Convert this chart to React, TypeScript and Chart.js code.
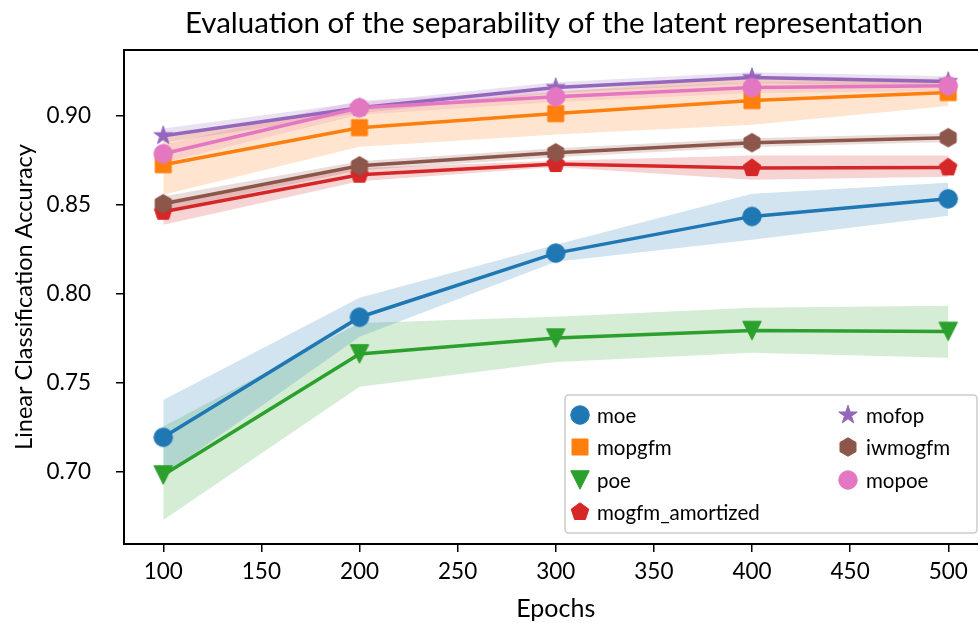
import { useEffect, useRef } from 'react';
import { Chart, registerables } from 'chart.js';

Chart.register(...registerables);

// ---------- data ----------
const epochs = [100, 200, 300, 400, 500];
const xTicks = [100, 150, 200, 250, 300, 350, 400, 450, 500];
const yTicks = [0.7, 0.75, 0.8, 0.85, 0.9];

const moeMean = [0.7193, 0.7867, 0.8227, 0.8433, 0.8532];
const moeLow = [0.698, 0.7757, 0.8178, 0.8302, 0.8437];
const moeHigh = [0.7403, 0.7976, 0.8274, 0.856, 0.8622];

const mopgfmMean = [0.8723, 0.8931, 0.901, 0.9083, 0.9128];
const mopgfmLow = [0.8555, 0.8824, 0.8892, 0.8948, 0.9052];
const mopgfmHigh = [0.889, 0.904, 0.913, 0.9218, 0.9204];

const poeMean = [0.6981, 0.7661, 0.775, 0.7792, 0.7787];
const poeLow = [0.6729, 0.7476, 0.7616, 0.7667, 0.7639];
const poeHigh = [0.7254, 0.7835, 0.7869, 0.792, 0.7931];

const amortMean = [0.8459, 0.8667, 0.8727, 0.8704, 0.8708];
const amortLow = [0.8386, 0.863, 0.871, 0.8639, 0.8656];
const amortHigh = [0.852, 0.8705, 0.8745, 0.8775, 0.8775];

const mofopMean = [0.8886, 0.9043, 0.9156, 0.9212, 0.919];
const mofopLow = [0.8846, 0.9013, 0.9126, 0.9182, 0.916];
const mofopHigh = [0.8926, 0.9073, 0.9186, 0.9242, 0.922];

const iwmogfmMean = [0.8504, 0.8717, 0.879, 0.8847, 0.8875];
const iwmogfmLow = [0.8464, 0.8692, 0.8765, 0.8822, 0.885];
const iwmogfmHigh = [0.8544, 0.8742, 0.8815, 0.8872, 0.89];

const mopoeMean = [0.8785, 0.9043, 0.9105, 0.9156, 0.9167];
const mopoeLow = [0.8735, 0.9003, 0.9075, 0.9126, 0.9137];
const mopoeHigh = [0.8835, 0.9083, 0.9135, 0.9186, 0.9197];

const seriesLabels = ['moe', 'mopgfm', 'poe', 'mogfm_amortized', 'mofop', 'iwmogfm', 'mopoe'];
const seriesColors = ['#1f77b4', '#ff7f0e', '#2ca02c', '#d62728', '#9467bd', '#8c564b', '#e377c2'];
const seriesShapes = ['circle', 'square', 'triangleDown', 'pentagon', 'star', 'hexagon', 'circle'];
const seriesMeans = [moeMean, mopgfmMean, poeMean, amortMean, mofopMean, iwmogfmMean, mopoeMean];
const seriesLows = [moeLow, mopgfmLow, poeLow, amortLow, mofopLow, iwmogfmLow, mopoeLow];
const seriesHighs = [moeHigh, mopgfmHigh, poeHigh, amortHigh, mofopHigh, iwmogfmHigh, mopoeHigh];

const FONT = 'Lato, "DejaVu Sans", sans-serif';

function hexToRgba(hex: string, a: number) {
  const n = parseInt(hex.slice(1), 16);
  return `rgba(${(n >> 16) & 255},${(n >> 8) & 255},${n & 255},${a})`;
}

function makeMarker(shape: string, color: string): HTMLCanvasElement {
  const S = 24;
  const c = document.createElement('canvas');
  c.width = S;
  c.height = S;
  const ctx = c.getContext('2d')!;
  ctx.fillStyle = color;
  ctx.strokeStyle = color;
  ctx.lineWidth = 1;
  ctx.lineJoin = 'miter';
  const cx = S / 2;
  const cy = S / 2;
  const ms = 18.5;
  const poly = (pts: [number, number][]) => {
    ctx.beginPath();
    pts.forEach(([x, y], i) => (i === 0 ? ctx.moveTo(x, y) : ctx.lineTo(x, y)));
    ctx.closePath();
  };
  const regular = (n: number, r: number) => {
    const pts: [number, number][] = [];
    for (let i = 0; i < n; i++) {
      const a = -Math.PI / 2 + (i * 2 * Math.PI) / n;
      pts.push([cx + r * Math.cos(a), cy + r * Math.sin(a)]);
    }
    poly(pts);
  };
  if (shape === 'circle') {
    ctx.beginPath();
    ctx.arc(cx, cy, ms / 2, 0, Math.PI * 2);
  } else if (shape === 'square') {
    const h = 8;
    ctx.beginPath();
    ctx.rect(cx - h, cy - h, 2 * h, 2 * h);
  } else if (shape === 'triangleDown') {
    const h = ms / 2;
    poly([
      [cx - h, cy - h],
      [cx + h, cy - h],
      [cx, cy + h],
    ]);
  } else if (shape === 'pentagon') {
    regular(5, ms / 2);
  } else if (shape === 'hexagon') {
    regular(6, ms / 2);
  } else if (shape === 'star') {
    const pts: [number, number][] = [];
    const R = ms / 2 + 0.5;
    for (let i = 0; i < 10; i++) {
      const a = -Math.PI / 2 + (i * Math.PI) / 5;
      const r = i % 2 === 0 ? R : R * 0.381966;
      pts.push([cx + r * Math.cos(a), cy + r * Math.sin(a)]);
    }
    poly(pts);
  }
  ctx.fill();
  ctx.stroke();
  return c;
}

export default function App() {
  const canvasRef = useRef<HTMLCanvasElement | null>(null);

  useEffect(() => {
    const canvas = canvasRef.current!;
    const markers = seriesShapes.map((s, i) => makeMarker(s, seriesColors[i]));

    const datasets: any[] = [];
    seriesLabels.forEach((label, i) => {
      datasets.push({
        label,
        data: epochs.map((x, k) => ({ x, y: seriesMeans[i][k] })),
        borderColor: seriesColors[i],
        backgroundColor: seriesColors[i],
        borderWidth: 3.5,
        pointStyle: markers[i],
        pointRadius: 9,
        fill: false,
        order: 10 - i,
        isMain: true,
      });
    });
    seriesLabels.forEach((label, i) => {
      datasets.push({
        label: label + '_high',
        data: epochs.map((x, k) => ({ x, y: seriesHighs[i][k] })),
        borderWidth: 0,
        borderColor: 'rgba(0,0,0,0)',
        pointRadius: 0,
        fill: false,
        order: 100,
      });
      datasets.push({
        label: label + '_low',
        data: epochs.map((x, k) => ({ x, y: seriesLows[i][k] })),
        borderWidth: 0,
        borderColor: 'rgba(0,0,0,0)',
        backgroundColor: hexToRgba(seriesColors[i], 0.2),
        pointRadius: 0,
        fill: '-1',
        order: 100,
      });
    });

    const decorPlugin = {
      id: 'decor',
      afterDraw(chart: any) {
        const { ctx, chartArea } = chart;
        ctx.save();
        // frame
        ctx.strokeStyle = '#000';
        ctx.lineWidth = 2;
        ctx.strokeRect(chartArea.left, chartArea.top, chartArea.right - chartArea.left, chartArea.bottom - chartArea.top);
        // title
        ctx.fillStyle = '#000';
        ctx.font = `29.5px ${FONT}`;
        ctx.textAlign = 'center';
        ctx.textBaseline = 'alphabetic';
        ctx.fillText('Evaluation of the separability of the latent representation', 554, 33);
        // x title
        ctx.font = `25px ${FONT}`;
        ctx.fillText('Epochs', (chartArea.left + chartArea.right) / 2, 617);
        // y title
        ctx.save();
        ctx.font = `23.5px ${FONT}`;
        ctx.translate(32, (chartArea.top + chartArea.bottom) / 2);
        ctx.rotate(-Math.PI / 2);
        ctx.fillText('Linear Classification Accuracy', 0, 0);
        ctx.restore();

        // legend
        const bx = 565, by = 395, bw = 412, bh = 138, r = 4;
        ctx.beginPath();
        ctx.moveTo(bx + r, by);
        ctx.lineTo(bx + bw - r, by);
        ctx.quadraticCurveTo(bx + bw, by, bx + bw, by + r);
        ctx.lineTo(bx + bw, by + bh - r);
        ctx.quadraticCurveTo(bx + bw, by + bh, bx + bw - r, by + bh);
        ctx.lineTo(bx + r, by + bh);
        ctx.quadraticCurveTo(bx, by + bh, bx, by + bh - r);
        ctx.lineTo(bx, by + r);
        ctx.quadraticCurveTo(bx, by, bx + r, by);
        ctx.closePath();
        ctx.fillStyle = 'rgba(255,255,255,0.8)';
        ctx.fill();
        ctx.strokeStyle = '#cccccc';
        ctx.lineWidth = 1.5;
        ctx.stroke();

        const mains = chart.data.datasets.filter((d: any) => d.isMain);
        const rowsY = [415, 447, 480, 512];
        ctx.font = `20.5px ${FONT}`;
        ctx.textAlign = 'left';
        ctx.textBaseline = 'middle';
        ctx.fillStyle = '#000';
        mains.forEach((d: any, idx: number) => {
          const col = idx < 4 ? 0 : 1;
          const row = idx < 4 ? idx : idx - 4;
          const mx = col === 0 ? 580 : 848;
          const tx = col === 0 ? 597 : 866;
          const y = rowsY[row];
          const m = d.pointStyle as HTMLCanvasElement;
          ctx.drawImage(m, mx - m.width / 2, y - m.height / 2);
          ctx.fillText(d.label, tx, y + 1);
        });
        ctx.restore();
      },
    };

    const chart = new Chart(canvas, {
      type: 'line',
      data: { datasets },
      options: {
        animation: false,
        responsive: false,
        devicePixelRatio: 1,
        layout: { padding: { top: 50, right: 11, left: 0, bottom: 0 } },
        plugins: {
          legend: { display: false },
          title: { display: false },
          tooltip: { enabled: false },
        },
        elements: { line: { tension: 0 } },
        scales: {
          x: {
            type: 'linear',
            min: 80,
            max: 520,
            afterBuildTicks: (axis: any) => {
              axis.ticks = xTicks.map((v) => ({ value: v }));
            },
            afterFit: (s: any) => {
              s.height = 79;
            },
            ticks: {
              color: '#000',
              font: { family: FONT, size: 22.5 },
              padding: 6,
              maxRotation: 0,
              autoSkip: false,
              callback: (v: any) => String(v),
            },
            grid: { drawOnChartArea: false, drawTicks: true, tickLength: 8, color: '#000', lineWidth: 1.5 },
            border: { display: true, color: '#000', width: 2 },
          },
          y: {
            type: 'linear',
            min: 0.6594,
            max: 0.9367,
            afterBuildTicks: (axis: any) => {
              axis.ticks = yTicks.map((v) => ({ value: v }));
            },
            afterFit: (s: any) => {
              s.width = 124;
            },
            ticks: {
              color: '#000',
              font: { family: FONT, size: 22.5 },
              padding: 25,
              autoSkip: false,
              callback: (v: any) => Number(v).toFixed(2),
            },
            grid: { drawOnChartArea: false, drawTicks: true, tickLength: 8, color: '#000', lineWidth: 1.5 },
            border: { display: true, color: '#000', width: 2 },
          },
        },
      } as any,
      plugins: [decorPlugin],
    });

    return () => chart.destroy();
  }, []);

  return (
    <div style={{ position: 'absolute', left: 0, top: 0, width: 978, height: 623, overflow: 'hidden', background: '#fff' }}>
      <canvas ref={canvasRef} width={1000} height={623} style={{ width: 1000, height: 623, display: 'block' }} />
    </div>
  );
}
